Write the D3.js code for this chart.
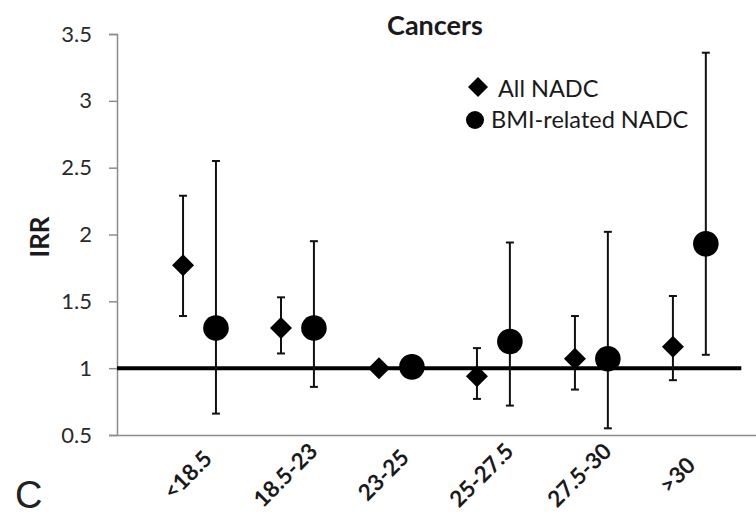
<!DOCTYPE html>
<html>
<head>
<meta charset="utf-8">
<script src="https://cdn.jsdelivr.net/npm/d3@7/dist/d3.min.js"></script>
<style>
  html, body { margin: 0; padding: 0; background: #fff; }
  svg { display: block; font-family: Lato, "Open Sans", sans-serif; }
</style>
</head>
<body>
<svg id="chart" width="756" height="515"></svg>
<script>
// BMI categories
const categories = ["<18.5", "18.5-23", "23-25", "25-27.5", "27.5-30", ">30"];

// All NADC: incidence rate ratio with 95% CI
const allIRR   = [1.77, 1.30, 1.00, 0.94, 1.07, 1.16];
const allLow   = [1.39, 1.11, null, 0.77, 0.84, 0.91];
const allHigh  = [2.29, 1.53, null, 1.15, 1.39, 1.54];

// BMI-related NADC: incidence rate ratio with 95% CI
const bmiIRR   = [1.30, 1.30, 1.01, 1.20, 1.07, 1.93];
const bmiLow   = [0.66, 0.86, null, 0.72, 0.55, 1.10];
const bmiHigh  = [2.55, 1.95, null, 1.94, 2.02, 3.36];

const yTicks = [0.5, 1, 1.5, 2, 2.5, 3, 3.5];
const refValue = 1;

const svg = d3.select("#chart");

const x = d3.scaleLinear().domain([-0.842, 5.68]).range([117, 756]);
const y = d3.scaleLinear().domain([0.5, 3.5]).range([435, 34]);
const shift = 0.168;   // horizontal offset of each series within a category

// y axis
const yAxis = svg.append("g")
  .attr("transform", "translate(117,0)")
  .call(d3.axisLeft(y).tickValues(yTicks).tickSize(8).tickPadding(17).tickFormat(d3.format("")));
yAxis.select(".domain").attr("stroke", "#8c8c8c").attr("stroke-width", 1.5);
yAxis.selectAll(".tick line").attr("stroke", "#8c8c8c").attr("stroke-width", 1.5);
yAxis.selectAll(".tick text").attr("fill", "#2a2a2a").attr("font-size", 22).attr("font-family", "Lato");

// x axis line
const xAxis = svg.append("g")
  .attr("transform", "translate(0,435)")
  .call(d3.axisBottom(x).tickValues([]).tickSizeOuter(0));
xAxis.select(".domain").attr("stroke", "#8c8c8c").attr("stroke-width", 1.5);

// category labels, rotated and centred below each category
svg.append("g").selectAll("text")
  .data(categories)
  .join("text")
  .attr("transform", (d, i) => `translate(${x(i) - 12},${475}) rotate(-45)`)
  .attr("text-anchor", "middle")
  .attr("dy", "0.35em")
  .attr("font-weight", "bold")
  .attr("font-size", 22.5)
  .attr("fill", "#1a1a1a")
  .text(d => d);

// reference line at IRR = 1
svg.append("line")
  .attr("x1", x(-0.842)).attr("x2", x(5.53))
  .attr("y1", y(refValue)).attr("y2", y(refValue))
  .attr("stroke", "#000").attr("stroke-width", 4);

// error bars
function errorBars(low, high, off) {
  const g = svg.append("g").attr("stroke", "#111").attr("stroke-width", 2);
  categories.forEach((c, i) => {
    if (low[i] == null) return;
    const cx = x(i + off);
    g.append("line").attr("x1", cx).attr("x2", cx).attr("y1", y(low[i])).attr("y2", y(high[i]));
    g.append("line").attr("x1", cx - 4).attr("x2", cx + 4).attr("y1", y(low[i])).attr("y2", y(low[i]));
    g.append("line").attr("x1", cx - 4).attr("x2", cx + 4).attr("y1", y(high[i])).attr("y2", y(high[i]));
  });
}
errorBars(allLow, allHigh, -shift);
errorBars(bmiLow, bmiHigh, shift);

const diamond = r => `M0,${-r}L${r},0L0,${r}L${-r},0Z`;

// All NADC diamonds
svg.append("g").selectAll("path")
  .data(allIRR)
  .join("path")
  .attr("transform", (d, i) => `translate(${x(i - shift)},${y(d)})`)
  .attr("d", diamond(11))
  .attr("fill", "#000");

// BMI-related NADC circles
svg.append("g").selectAll("circle")
  .data(bmiIRR)
  .join("circle")
  .attr("cx", (d, i) => x(i + shift))
  .attr("cy", d => y(d))
  .attr("r", 12.8)
  .attr("fill", "#000");

// title
svg.append("text")
  .attr("x", 435).attr("y", 35)
  .attr("text-anchor", "middle")
  .attr("font-weight", "bold")
  .attr("font-size", 27)
  .attr("fill", "#1a1a1a")
  .text("Cancers");

// y axis title
svg.append("text")
  .attr("transform", "translate(40,237) rotate(-90)")
  .attr("text-anchor", "middle")
  .attr("dy", "0.36em")
  .attr("font-weight", "bold")
  .attr("font-size", 26)
  .attr("fill", "#1a1a1a")
  .text("IRR");

// legend
const legend = svg.append("g");
legend.append("path").attr("transform", "translate(478,87)").attr("d", diamond(10)).attr("fill", "#000");
legend.append("text").attr("x", 498).attr("y", 97).attr("font-size", 23.5).attr("fill", "#1a1a1a").text("All NADC");
legend.append("circle").attr("cx", 475).attr("cy", 120).attr("r", 9).attr("fill", "#000");
legend.append("text").attr("x", 491).attr("y", 128).attr("font-size", 23.5).attr("fill", "#1a1a1a").text("BMI-related NADC");

// panel letter
svg.append("text")
  .attr("x", 15).attr("y", 508)
  .attr("font-family", "Liberation Sans, Arial, sans-serif")
  .attr("font-size", 38)
  .attr("fill", "#222")
  .text("C");
</script>
</body>
</html>
